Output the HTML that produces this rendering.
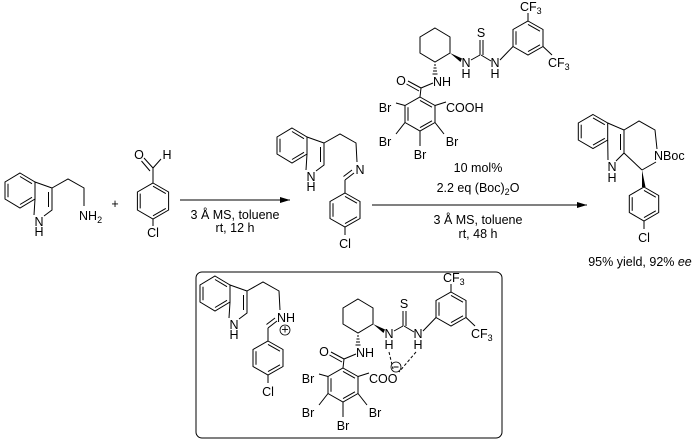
<!DOCTYPE html>
<html><head><meta charset="utf-8"><style>
html,body{margin:0;padding:0;background:#fff;}
svg{display:block;}
text{font-family:"Liberation Sans",Arial,sans-serif;font-size:12.5px;fill:#000;}
.c{text-anchor:middle;}
line,polyline,polygon.r{stroke:#000;stroke-width:1;fill:none;}
</style></head><body>
<svg width="700" height="443" viewBox="0 0 700 443" xmlns="http://www.w3.org/2000/svg">
<defs>
<marker id="ah" viewBox="0 0 10 6" refX="10" refY="3" markerWidth="10" markerHeight="6" orient="auto" markerUnits="userSpaceOnUse"><path d="M0,0 L10,3 L0,6 Z" fill="#000"/></marker>
</defs>

<g>
<polygon class="r" points="292,128 307,137 307,154 292,163 277,154 277,137"/>
<line x1="292" y1="131.5" x2="304" y2="138.7"/><line x1="304" y1="152.3" x2="292" y2="159.5"/><line x1="280" y1="152.3" x2="280" y2="138.7"/>
<polyline points="307,137 324,143 324,165 316,171"/>
<line x1="320.5" y1="147" x2="320.5" y2="162"/>
<line x1="307" y1="154" x2="306" y2="170"/>
<text class="c" x="311" y="181">N</text><text class="c" x="311" y="191">H</text>
</g>
<g transform="translate(-272,45)">
<polygon class="r" points="292,128 307,137 307,154 292,163 277,154 277,137"/>
<line x1="292" y1="131.5" x2="304" y2="138.7"/><line x1="304" y1="152.3" x2="292" y2="159.5"/><line x1="280" y1="152.3" x2="280" y2="138.7"/>
<polyline points="307,137 324,143 324,165 316,171"/>
<line x1="320.5" y1="147" x2="320.5" y2="162"/>
<line x1="307" y1="154" x2="306" y2="170"/>
<text class="c" x="311" y="181">N</text><text class="c" x="311" y="191">H</text>
</g>
<polyline points="52,188 68,179 84,188 84,206"/>
<text x="79" y="220">NH<tspan font-size="9" dy="3">2</tspan></text>
<text class="c" x="115" y="208">+</text>

<polygon class="r" points="153,183 168.6,192 168.6,210 153,219 137.4,210 137.4,192"/>
<line x1="153" y1="186.2" x2="165.8" y2="193.6"/><line x1="165.8" y1="208.4" x2="153" y2="215.8"/><line x1="140.2" y1="208.4" x2="140.2" y2="193.6"/>
<line x1="153" y1="183" x2="153" y2="168"/>
<line x1="153" y1="168" x2="144" y2="158"/><line x1="150" y1="171" x2="141.5" y2="161"/>
<line x1="153" y1="168" x2="161" y2="159"/>
<text class="c" x="139" y="159">O</text><text class="c" x="167" y="159">H</text>
<line x1="153" y1="219" x2="153" y2="226"/>
<text class="c" x="153" y="237">Cl</text>

<line x1="180" y1="200" x2="290" y2="200" marker-end="url(#ah)"/>
<text class="c" x="235" y="219">3 Å MS, toluene</text>
<text class="c" x="235" y="232">rt, 12 h</text>

<polyline points="324,143 340,134 356,143 357,162"/>
<text class="c" x="360" y="174">N</text>
<line x1="354" y1="173" x2="345" y2="180"/><line x1="352" y1="170" x2="343.5" y2="176.5"/>
<line x1="345" y1="180" x2="345" y2="193"/>
<g>
<polygon class="r" points="345,193 360,201.5 360,218.5 345,227 330,218.5 330,201.5"/>
<line x1="345" y1="196.4" x2="357" y2="203.2"/><line x1="357" y1="216.8" x2="345" y2="223.6"/><line x1="333" y1="216.8" x2="333" y2="203.2"/>
<line x1="345" y1="227" x2="345" y2="235"/>
<text class="c" x="345" y="248">Cl</text>
</g>

<g>
<polygon class="r" points="435,28 450,37 450,53 435,62 420,53 420,37"/>
<polygon points="450,53 462,58.5 460.5,62" fill="#000"/>
<text class="c" x="466" y="67">N</text><text class="c" x="466" y="78">H</text>
<line x1="471" y1="60" x2="480" y2="55"/>
<line x1="480" y1="55" x2="480" y2="40"/><line x1="483" y1="55" x2="483" y2="40"/>
<text class="c" x="481" y="37">S</text>
<line x1="481" y1="55" x2="491" y2="61"/>
<text class="c" x="495" y="67">N</text><text class="c" x="495" y="78">H</text>
<line x1="500" y1="60" x2="513" y2="46.5"/>
<polygon class="r" points="528,21 543,29.5 543,46.5 528,55 513,46.5 513,29.5"/>
<line x1="528" y1="24.4" x2="540" y2="31.2"/><line x1="540" y1="44.8" x2="528" y2="51.6"/><line x1="516" y1="44.8" x2="516" y2="31.2"/>
<line x1="528" y1="21" x2="528" y2="13"/>
<text x="520" y="11">CF<tspan font-size="9" dy="3">3</tspan></text>
<line x1="543" y1="46.5" x2="552" y2="55"/>
<text x="548" y="67">CF<tspan font-size="9" dy="3">3</tspan></text>
<g stroke="#000" stroke-width="1">
<line x1="434" y1="65" x2="436" y2="65"/><line x1="433.5" y1="68" x2="436.5" y2="68"/><line x1="433" y1="71" x2="437" y2="71"/><line x1="432.5" y1="74" x2="437.5" y2="74"/>
</g>
<text x="433" y="86">NH</text>
<line x1="433" y1="83" x2="421" y2="88"/>
<line x1="421" y1="88" x2="408" y2="81"/><line x1="419" y1="91" x2="406.5" y2="84"/>
<text class="c" x="401" y="85">O</text>
<line x1="421" y1="88" x2="420" y2="97"/>
<polygon class="r" points="420,97 435,105.5 435,122.5 420,131 405,122.5 405,105.5"/>
<line x1="420" y1="100.4" x2="432" y2="107.2"/><line x1="432" y1="120.8" x2="420" y2="127.6"/><line x1="408" y1="120.8" x2="408" y2="107.2"/>
<line x1="405" y1="105.5" x2="396" y2="103"/><text class="c" x="385" y="112">Br</text>
<line x1="435" y1="105.5" x2="446" y2="102"/><text x="446" y="112">COOH</text>
<line x1="405" y1="122.5" x2="396" y2="134"/><text class="c" x="385" y="146">Br</text>
<line x1="435" y1="122.5" x2="444" y2="134"/><text class="c" x="452" y="146">Br</text>
<line x1="420" y1="131" x2="420" y2="146"/><text class="c" x="420" y="159">Br</text>
</g>

<text class="c" x="478" y="172">10 mol%</text>
<text class="c" x="478" y="192">2.2 eq (Boc)<tspan font-size="9" dy="3">2</tspan><tspan dy="-3">O</tspan></text>
<line x1="372" y1="205" x2="587" y2="205" marker-end="url(#ah)"/>
<text class="c" x="478" y="224">3 Å MS, toluene</text>
<text class="c" x="478" y="238">rt, 48 h</text>

<polygon class="r" points="593,114.5 607.7,123 607.7,140 593,148.5 578.3,140 578.3,123"/>
<line x1="593" y1="117.9" x2="604.8" y2="124.7"/><line x1="604.8" y1="138.3" x2="593" y2="145.1"/><line x1="581.2" y1="138.3" x2="581.2" y2="124.7"/>
<polyline points="607.7,123 624,130 624,153 616,161"/>
<line x1="620.5" y1="134" x2="620.5" y2="150"/>
<line x1="607.7" y1="140" x2="608" y2="160"/>
<text class="c" x="612" y="171">N</text><text class="c" x="612" y="182">H</text>
<polyline points="624,130 639,121 655,130 657,149"/>
<text x="654" y="160">NBoc</text>
<line x1="656" y1="162" x2="642" y2="170"/>
<line x1="624" y1="153" x2="642" y2="170"/>
<polygon points="642,170 642,187 645.5,187" fill="#000"/>
<polygon class="r" points="644,187 658.7,195.5 658.7,212.5 644,221 629.3,212.5 629.3,195.5"/>
<line x1="644" y1="190.4" x2="655.8" y2="197.2"/><line x1="655.8" y1="210.8" x2="644" y2="217.6"/><line x1="632.2" y1="210.8" x2="632.2" y2="197.2"/>
<line x1="644" y1="221" x2="644" y2="229"/>
<text class="c" x="644" y="242">Cl</text>
<text class="c" x="640" y="266">95% yield, 92% <tspan font-style="italic">ee</tspan></text>

<rect x="196" y="272" width="306" height="166" rx="6" ry="6" fill="none" stroke="#000" stroke-width="1"/>
<g transform="translate(-77,148)">
<polygon class="r" points="292,128 307,137 307,154 292,163 277,154 277,137"/>
<line x1="292" y1="131.5" x2="304" y2="138.7"/><line x1="304" y1="152.3" x2="292" y2="159.5"/><line x1="280" y1="152.3" x2="280" y2="138.7"/>
<polyline points="307,137 324,143 324,165 316,171"/>
<line x1="320.5" y1="147" x2="320.5" y2="162"/>
<line x1="307" y1="154" x2="306" y2="170"/>
<text class="c" x="311" y="181">N</text><text class="c" x="311" y="191">H</text>
<polyline points="324,143 340,134 356,143 357,162"/>
<text x="354" y="174">NH</text>
<line x1="354" y1="173" x2="345" y2="180"/><line x1="352" y1="170" x2="343.5" y2="176.5"/>
<line x1="345" y1="180" x2="345" y2="193"/>
<circle cx="362" cy="182" r="5" fill="none" stroke="#000" stroke-width="0.8"/>
<text class="c" x="362" y="185.5" font-size="9">+</text>
<polygon class="r" points="345,193 360,201.5 360,218.5 345,227 330,218.5 330,201.5"/>
<line x1="345" y1="196.4" x2="357" y2="203.2"/><line x1="357" y1="216.8" x2="345" y2="223.6"/><line x1="333" y1="216.8" x2="333" y2="203.2"/>
<line x1="345" y1="227" x2="345" y2="235"/>
<text class="c" x="345" y="248">Cl</text>
</g>
<g transform="translate(-77,271)">
<polygon class="r" points="435,28 450,37 450,53 435,62 420,53 420,37"/>
<polygon points="450,53 462,58.5 460.5,62" fill="#000"/>
<text class="c" x="466" y="67">N</text><text class="c" x="466" y="78">H</text>
<line x1="471" y1="60" x2="480" y2="55"/>
<line x1="480" y1="55" x2="480" y2="40"/><line x1="483" y1="55" x2="483" y2="40"/>
<text class="c" x="481" y="37">S</text>
<line x1="481" y1="55" x2="491" y2="61"/>
<text class="c" x="495" y="67">N</text><text class="c" x="495" y="78">H</text>
<line x1="500" y1="60" x2="513" y2="46.5"/>
<polygon class="r" points="528,21 543,29.5 543,46.5 528,55 513,46.5 513,29.5"/>
<line x1="528" y1="24.4" x2="540" y2="31.2"/><line x1="540" y1="44.8" x2="528" y2="51.6"/><line x1="516" y1="44.8" x2="516" y2="31.2"/>
<line x1="528" y1="21" x2="528" y2="13"/>
<text x="520" y="11">CF<tspan font-size="9" dy="3">3</tspan></text>
<line x1="543" y1="46.5" x2="552" y2="55"/>
<text x="548" y="67">CF<tspan font-size="9" dy="3">3</tspan></text>
<g stroke="#000" stroke-width="1">
<line x1="434" y1="65" x2="436" y2="65"/><line x1="433.5" y1="68" x2="436.5" y2="68"/><line x1="433" y1="71" x2="437" y2="71"/><line x1="432.5" y1="74" x2="437.5" y2="74"/>
</g>
<text x="433" y="86">NH</text>
<line x1="433" y1="83" x2="421" y2="88"/>
<line x1="421" y1="88" x2="408" y2="81"/><line x1="419" y1="91" x2="406.5" y2="84"/>
<text class="c" x="401" y="85">O</text>
<line x1="421" y1="88" x2="420" y2="97"/>
<polygon class="r" points="420,97 435,105.5 435,122.5 420,131 405,122.5 405,105.5"/>
<line x1="420" y1="100.4" x2="432" y2="107.2"/><line x1="432" y1="120.8" x2="420" y2="127.6"/><line x1="408" y1="120.8" x2="408" y2="107.2"/>
<line x1="405" y1="105.5" x2="396" y2="103"/><text class="c" x="385" y="112">Br</text>
<line x1="435" y1="105.5" x2="446" y2="102"/><text x="446" y="112">COO</text>
<circle cx="473" cy="96" r="5" fill="none" stroke="#000" stroke-width="0.8"/>
<line x1="470.5" y1="96" x2="475.5" y2="96" stroke-width="0.8"/>
<line x1="405" y1="122.5" x2="396" y2="134"/><text class="c" x="385" y="146">Br</text>
<line x1="435" y1="122.5" x2="444" y2="134"/><text class="c" x="452" y="146">Br</text>
<line x1="420" y1="131" x2="420" y2="146"/><text class="c" x="420" y="159">Br</text>
<g stroke-dasharray="3,2">
<line x1="466" y1="81" x2="470" y2="98"/>
<line x1="493" y1="81" x2="476" y2="101"/>
</g>
</g>
</svg>
</body></html>
